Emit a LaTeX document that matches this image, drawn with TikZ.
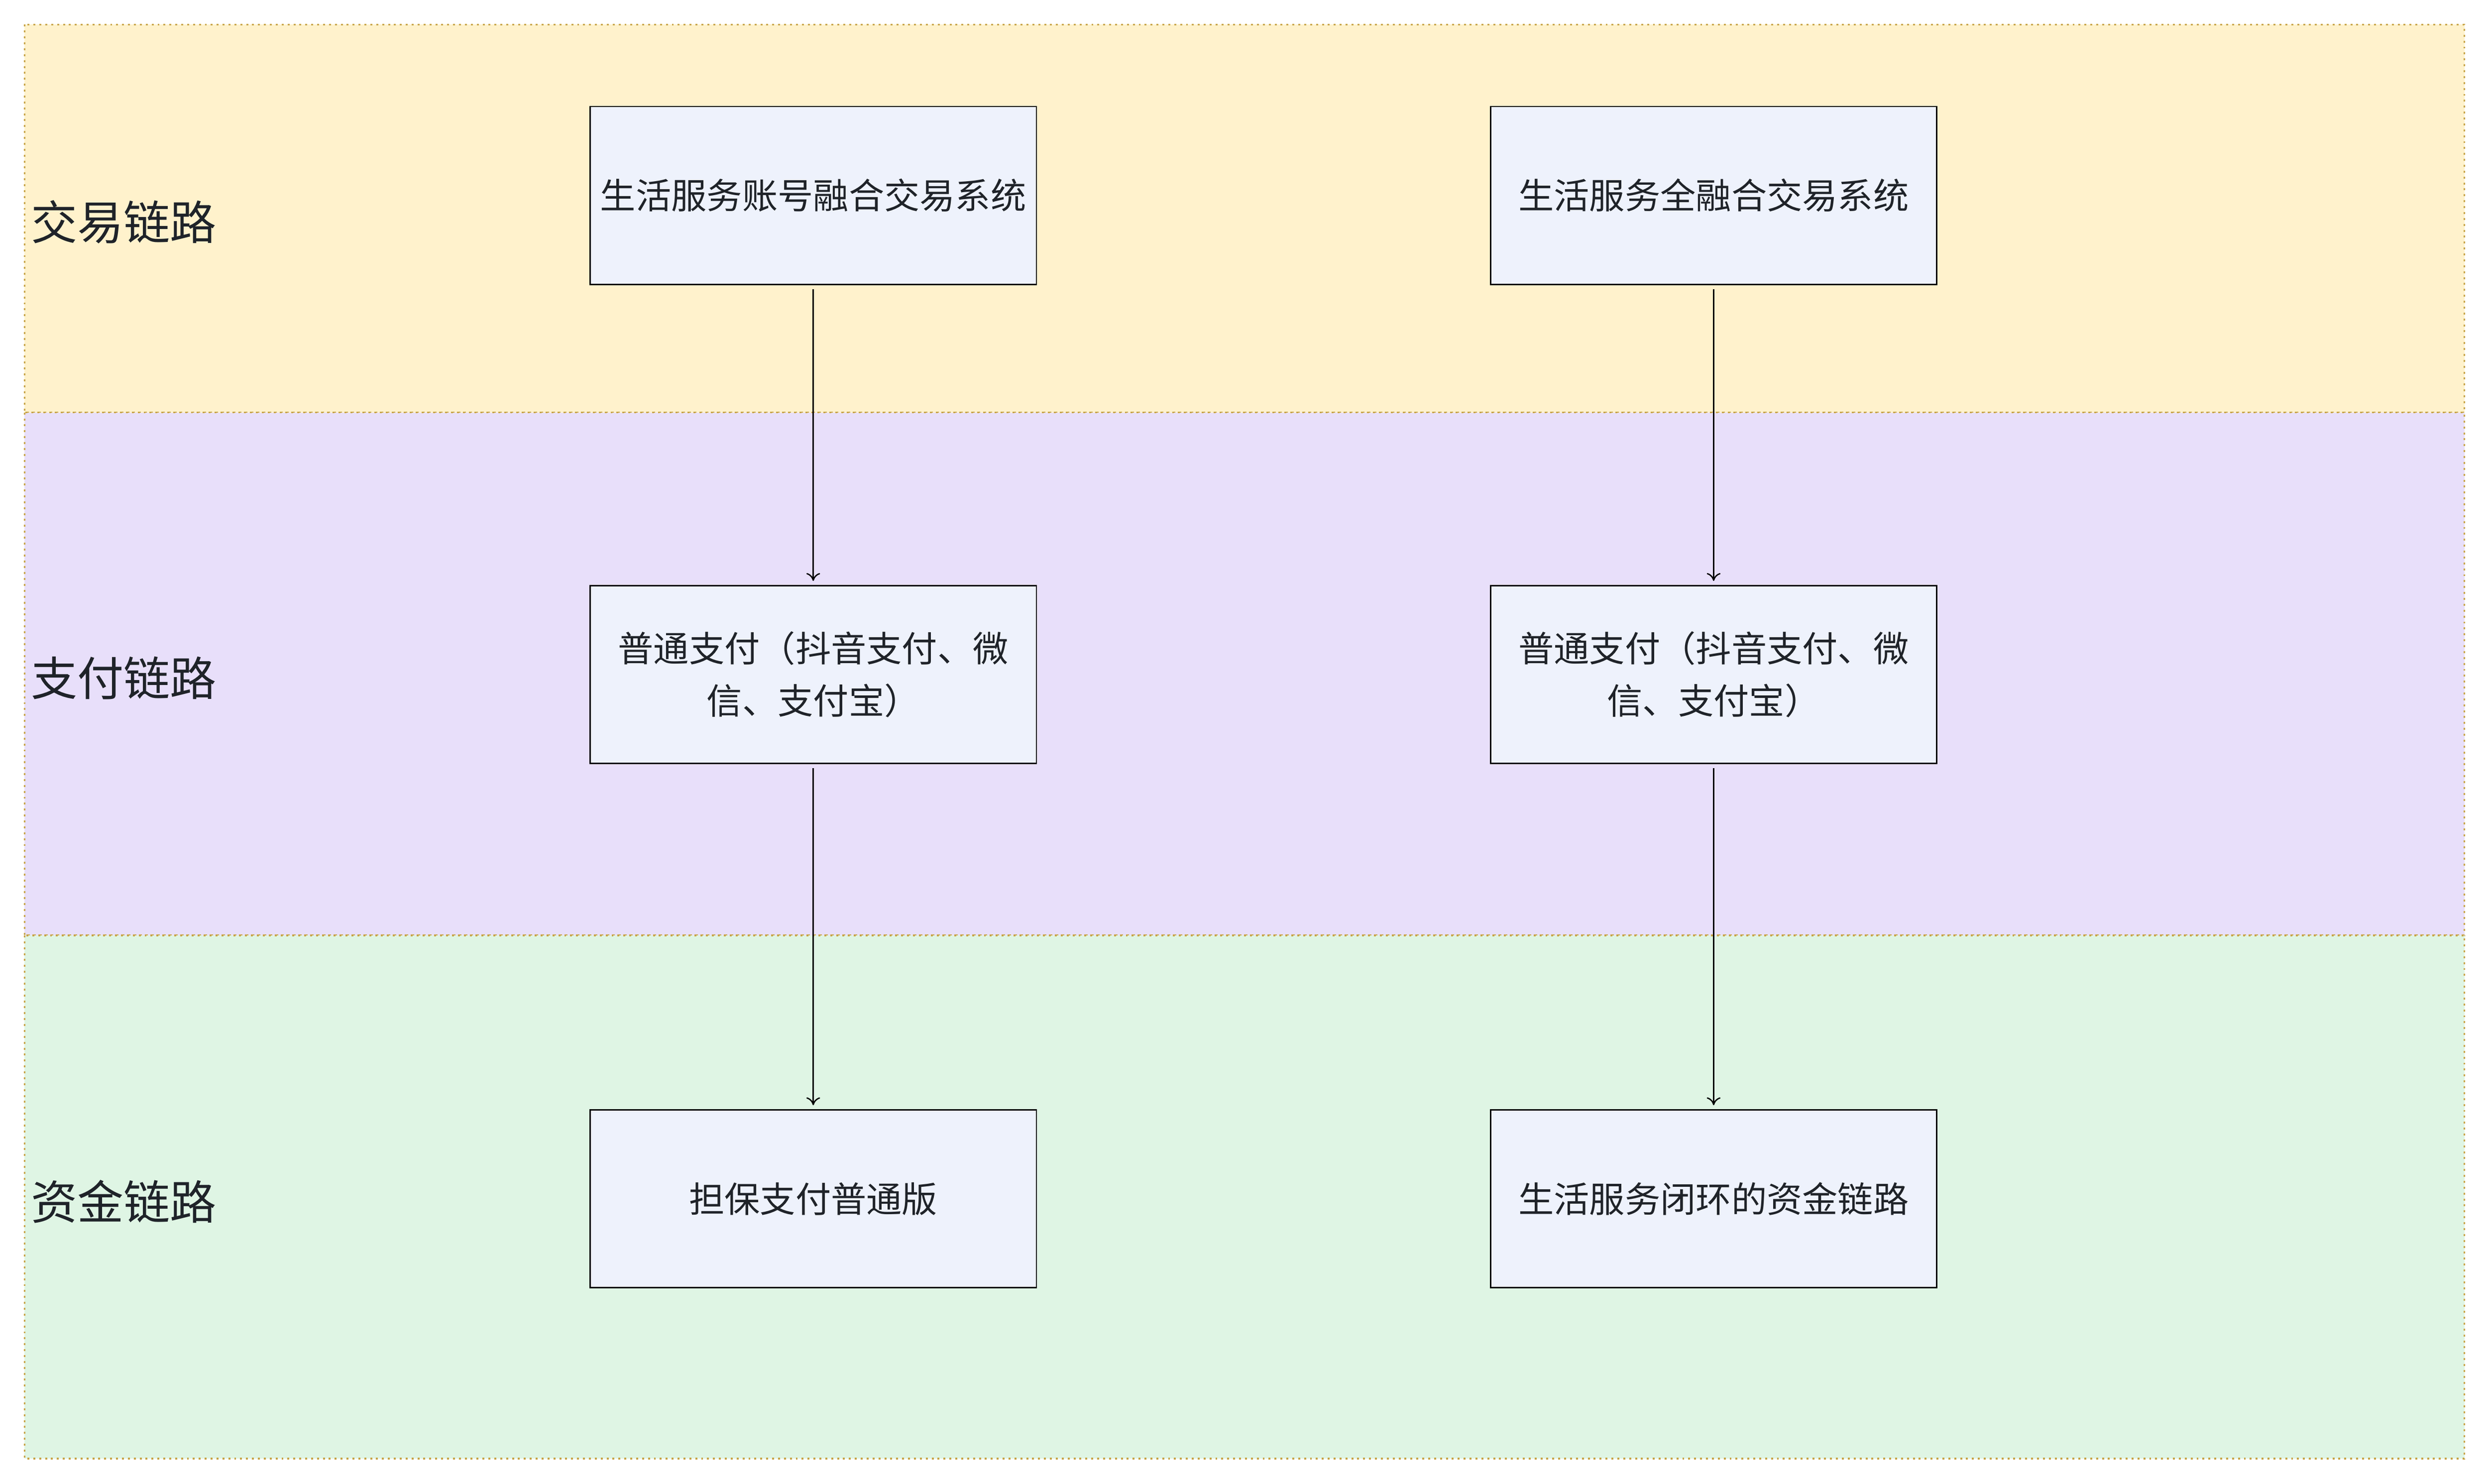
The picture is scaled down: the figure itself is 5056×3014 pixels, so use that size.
\documentclass[tikz,border=0pt]{standalone}
\usepackage{fontspec}
\setmainfont{Noto Sans CJK SC}
\usetikzlibrary{arrows.meta}
\definecolor{tradefill}{HTML}{FFF2CC}
\definecolor{payfill}{HTML}{E8DFFA}
\definecolor{fundfill}{HTML}{DFF5E4}
\definecolor{boxfill}{HTML}{EEF2FC}
\definecolor{bandline}{HTML}{C8A448}
\definecolor{ink}{HTML}{1F2329}
\begin{document}
\begin{tikzpicture}[x=0.01cm,y=-0.01cm,
  band/.style={draw=bandline, line width=0.035cm, dash pattern=on 0.04cm off 0.08cm},
  lane/.style={anchor=west, inner sep=0pt, text=ink, font=\fontsize{26.8pt}{32pt}\selectfont},
  sysbox/.style={draw=black, line width=0.8pt, fill=boxfill, minimum width=9.06cm, minimum height=3.61cm, text=ink, align=center, font=\fontsize{20.5pt}{30.3pt}\selectfont},
  flow/.style={-{To[length=0.16cm,width=0.28cm]}, line width=0.75pt, shorten <=0.08cm, shorten >=0.08cm}]
\useasboundingbox (0,0) rectangle (5056,3014);
\fill[white] (0,0) rectangle (5056,3014);
% lanes
\draw[band, fill=tradefill] (50,50) rectangle (5006,838);
\draw[band, fill=payfill] (50,838) rectangle (5006,1900);
\draw[band, fill=fundfill] (50,1900) rectangle (5006,2963);
\node[lane] (laneTrade) at (62,451) {交易链路};
\node[lane] (lanePay) at (62,1377) {支付链路};
\node[lane] (laneFund) at (62,2441) {资金链路};
% left column
\node[sysbox] (tradeL) at (1652,397) {生活服务账号融合交易系统};
\node[sysbox] (payL) at (1652,1370) {普通支付（抖音支付、微\\信、支付宝）};
\node[sysbox] (fundL) at (1652,2435) {担保支付普通版};
% right column
\node[sysbox] (tradeR) at (3481,397) {生活服务全融合交易系统};
\node[sysbox] (payR) at (3481,1370) {普通支付（抖音支付、微\\信、支付宝）};
\node[sysbox] (fundR) at (3481,2435) {生活服务闭环的资金链路};
\draw[flow] (tradeL) -- (payL);
\draw[flow] (payL) -- (fundL);
\draw[flow] (tradeR) -- (payR);
\draw[flow] (payR) -- (fundR);
\end{tikzpicture}
\end{document}
